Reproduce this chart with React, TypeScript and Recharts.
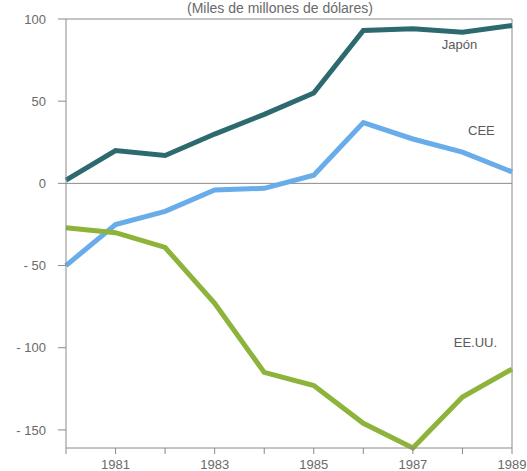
import { LineChart, Line, XAxis, YAxis, ReferenceLine, LabelList } from 'recharts';

const years = [1980, 1981, 1982, 1983, 1984, 1985, 1986, 1987, 1988, 1989];
const japon = [2, 20, 17, 30, 42, 55, 93, 94, 92, 96];
const cee = [-50, -25, -17, -4, -3, 5, 37, 27, 19, 7];
const eeuu = [-27, -30, -39, -73, -115, -123, -146, -161, -130, -113];
const yTicks = [-150, -100, -50, 0, 50, 100];
const xLabels = ['1981', '1983', '1985', '1987', '1989'];

const data = years.map((y, i) => ({ year: y, japon: japon[i], cee: cee[i], eeuu: eeuu[i] }));

const AXIS = '#8a8a8a';
const FONT = '"Liberation Sans", Arial, sans-serif';

function seriesLabel(text: string, dx: number, dy: number) {
  return (props: any) => {
    if (props.index !== 8) return null;
    return (
      <text x={props.x + dx} y={props.y + dy} textAnchor="middle" fill="#5a5a5a" fontSize={13} fontFamily={FONT}>
        {text}
      </text>
    );
  };
}

export default function App() {
  return (
    <div style={{ position: 'absolute', left: 0, top: 0, width: 527, height: 471, overflow: 'hidden', background: '#fff' }}>
      <div
        style={{
          position: 'absolute', top: 0, left: 0, width: 560, textAlign: 'center',
          fontFamily: FONT, fontSize: 14, lineHeight: '16px', color: '#6a6a6a',
        }}
      >
        (Miles de millones de dólares)
      </div>
      <LineChart width={527} height={500} data={data} margin={{ top: 19, right: 15, left: 0, bottom: 0 }}>
        <XAxis
          dataKey="year"
          type="number"
          domain={[1980, 1989]}
          ticks={years}
          interval={0}
          tickFormatter={(v: number) => (xLabels.includes(String(v)) ? String(v) : '')}
          tick={{ fill: '#6a6a6a', fontSize: 13, fontFamily: FONT }}
          tickSize={6}
          tickMargin={6}
          stroke={AXIS}
          height={52}
        />
        <YAxis
          type="number"
          domain={[-161, 100]}
          ticks={yTicks}
          interval={0}
          tickFormatter={(v: number) => (v < 0 ? `- ${Math.abs(v)}` : String(v))}
          tick={{ fill: '#6a6a6a', fontSize: 13, fontFamily: FONT }}
          tickSize={8}
          tickMargin={12}
          stroke={AXIS}
          width={66}
        />
        <ReferenceLine y={100} stroke={AXIS} strokeWidth={1} />
        <ReferenceLine x={1989} stroke={AXIS} strokeWidth={1} />
        <ReferenceLine y={0} stroke={AXIS} strokeWidth={1} />
        <Line type="linear" dataKey="japon" stroke="#2c6a6f" strokeWidth={5} dot={false} isAnimationActive={false}>
          <LabelList dataKey="japon" content={seriesLabel('Japón', -3, 17)} />
        </Line>
        <Line type="linear" dataKey="cee" stroke="#68acea" strokeWidth={5} dot={false} isAnimationActive={false}>
          <LabelList dataKey="cee" content={seriesLabel('CEE', 19, -17)} />
        </Line>
        <Line type="linear" dataKey="eeuu" stroke="#8db33a" strokeWidth={5} dot={false} isAnimationActive={false}>
          <LabelList dataKey="eeuu" content={seriesLabel('EE.UU.', 13, -50)} />
        </Line>
      </LineChart>
    </div>
  );
}
